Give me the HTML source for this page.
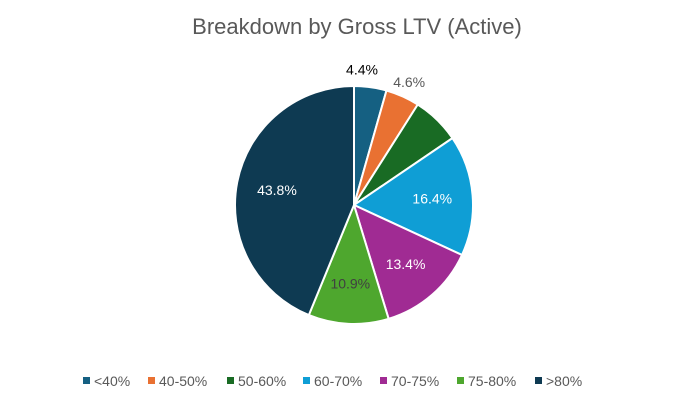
<!DOCTYPE html>
<html><head><meta charset="utf-8"><style>
body{margin:0;background:#fff;font-family:"Liberation Sans",sans-serif}
#wrap{position:relative;width:698px;height:408px;overflow:hidden}
</style></head><body>
<div id="wrap">
<svg id="svg" width="698" height="408">
<text x="357" y="34" text-anchor="middle" font-size="22" fill="#595959">Breakdown by Gross LTV (Active)</text>
<g id="slices"></g>
<g id="labels"></g>
<g id="legend"></g>
</svg>
</div>
<script>
const categories=["<40%","40-50%","50-60%","60-70%","70-75%","75-80%",">80%"];
const values=[4.4,4.6,6.5,16.4,13.4,10.9,43.8];
const labelsShown=["4.4%","4.6%","","16.4%","13.4%","10.9%","43.8%"];
const colors=["#156082","#E97132","#196B24","#0F9ED5","#A02B93","#4EA72E","#0E3A52"];
const labelColors=["#000","#595959","#fff","#fff","#fff","#404040","#fff"];
const ns="http://www.w3.org/2000/svg";
const cx=354,cy=205,r=119;
const total=values.reduce((a,b)=>a+b,0);
const sg=document.getElementById('slices'),lg=document.getElementById('labels'),leg=document.getElementById('legend');
function pt(a,rr){return [cx+rr*Math.sin(a),cy-rr*Math.cos(a)];}
let acc=0;
values.forEach((v,i)=>{
  const a0=acc/total*2*Math.PI;acc+=v;const a1=acc/total*2*Math.PI;
  const p0=pt(a0,r),p1=pt(a1,r);
  const p=document.createElementNS(ns,'path');
  p.setAttribute('d',`M${cx},${cy} L${p0[0]},${p0[1]} A${r},${r} 0 ${a1-a0>Math.PI?1:0} 1 ${p1[0]},${p1[1]} Z`);
  p.setAttribute('fill',colors[i]);p.setAttribute('stroke','#fff');p.setAttribute('stroke-width','2');
  
  
  sg.appendChild(p);
  if(labelsShown[i]){
    const am=(a0+a1)/2;
    const rr=v<5?r+16:r*0.66;
    let q=pt(am,rr);
    if(i===0){q=[362,q[1]-2];}
    const t=document.createElementNS(ns,'text');
    t.setAttribute('x',q[0]);t.setAttribute('y',q[1]+5);
    t.setAttribute('text-anchor','middle');t.setAttribute('font-size','14');
    t.setAttribute('fill',labelColors[i]);
    t.textContent=labelsShown[i];
    
    
    lg.appendChild(t);
  }
});
const legX=[83,148,227,303,380,457,535];
categories.forEach((c,i)=>{
  const g=document.createElementNS(ns,'g');
  
  
  const s=document.createElementNS(ns,'rect');
  s.setAttribute('x',legX[i]);s.setAttribute('y',377);s.setAttribute('width',7);s.setAttribute('height',7);
  s.setAttribute('fill',colors[i]);
  const t=document.createElementNS(ns,'text');
  t.setAttribute('x',legX[i]+11);t.setAttribute('y',386);t.setAttribute('font-size','14');t.setAttribute('fill','#595959');
  t.textContent=c;
  g.appendChild(s);g.appendChild(t);leg.appendChild(g);
});
</script>
</body></html>
